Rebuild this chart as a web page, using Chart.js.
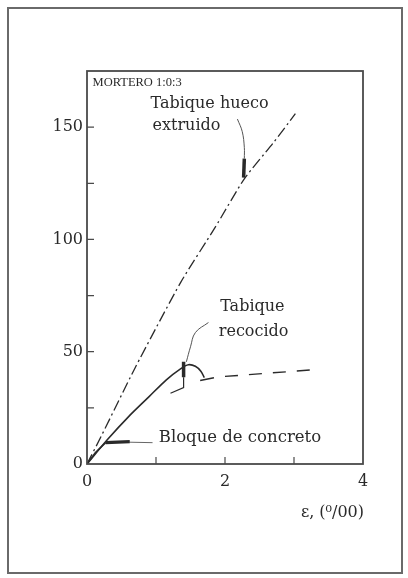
<!DOCTYPE html>
<html>
<head>
<meta charset="utf-8">
<script src="https://cdn.jsdelivr.net/npm/chart.js@4"></script>
<style>
  html, body { margin: 0; padding: 0; background: #ffffff; }
  #wrap { width: 408px; height: 578px; position: relative; }
</style>
</head>
<body>
<div id="wrap"><canvas id="c"></canvas></div>
<script>
// Stress (vertical) against strain ε in per mille, mortar 1:0:3
const xTicks = [0, 1, 2, 3, 4];
const xTickLabels = ['0', '', '2', '', '4'];
const yTicks = [0, 25, 50, 75, 100, 125, 150, 175];
const yTickLabels = ['0', '', '50', '', '100', '', '150', ''];

// Tabique hueco extruido (dash-dot)
const huecoX = [0, 0.2, 0.7, 1.36, 1.85, 2.28, 2.7, 3.02];
const huecoY = [0, 12, 43, 81, 105, 127, 143, 156];

// Tabique recocido: rising branch and the arc past the peak
const recocidoX = [0, 0.3, 0.6, 0.9, 1.15, 1.36, 1.47, 1.57, 1.65, 1.7];
const recocidoY = [0, 11, 21, 30, 37.5, 42.5, 44.2, 43.5, 41.3, 38.5];
// short tail at the end of the arc
const recocidoTailX = [1.64, 1.84];
const recocidoTailY = [37.2, 38.4];
// plateau branch (dashed)
const recocidoDashX = [2.0, 3.3];
const recocidoDashY = [39, 42];

// Bloque de concreto
const bloqueX = [0, 0.12, 0.27];
const bloqueY = [0, 5, 9.5];
const bloqueEndX = [0.27, 0.62];
const bloqueEndY = [9.5, 10];

// failure marks and leader lines
const huecoMarkX = [2.28, 2.27];
const huecoMarkY = [136, 127.5];
const huecoLeaderX = [2.18, 2.25, 2.28, 2.28];
const huecoLeaderY = [153.6, 148, 141, 136];
const recocidoMarkX = [1.40, 1.40];
const recocidoMarkY = [45.5, 38.6];
const recocidoFootX = [1.40, 1.40, 1.21];
const recocidoFootY = [38.6, 34, 31.5];
const recocidoLeaderX = [1.76, 1.57, 1.50, 1.44];
const recocidoLeaderY = [63, 58.5, 52.2, 45.5];
const bloqueLeaderX = [0.62, 0.95];
const bloqueLeaderY = [9.7, 9.5];

const ink = '#2a2a2a';
const serif = '"DejaVu Serif", "Liberation Serif", serif';
const times = '"Liberation Serif", serif';

function pts(xs, ys) { return xs.map((x, i) => ({ x: x, y: ys[i] })); }

function line(xs, ys, extra) {
  return Object.assign({
    data: pts(xs, ys),
    showLine: true,
    borderColor: ink,
    borderWidth: 1.4,
    pointRadius: 0,
    tension: 0.3,
    fill: false
  }, extra || {});
}

const labels = [
  { text: 'MORTERO 1:0:3', x: 0.08, y: 169.6, size: 12.5, font: times },
  { text: 'Tabique hueco', x: 0.92, y: 160.3, size: 16, font: serif },
  { text: 'extruido', x: 0.95, y: 150.4, size: 16, font: serif },
  { text: 'Tabique', x: 1.93, y: 70, size: 16, font: serif },
  { text: 'recocido', x: 1.91, y: 59, size: 16, font: serif },
  { text: 'Bloque de concreto', x: 1.04, y: 11.6, size: 16.5, font: serif }
];

const framePlugin = {
  id: 'frame',
  beforeDraw(chart) {
    const ctx = chart.ctx;
    ctx.save();
    ctx.fillStyle = '#ffffff';
    ctx.fillRect(0, 0, chart.width, chart.height);
    ctx.strokeStyle = '#6a6a6a';
    ctx.lineWidth = 2;
    ctx.strokeRect(8, 8, 394, 565);
    ctx.restore();
  },
  afterDraw(chart) {
    const ctx = chart.ctx;
    const xs = chart.scales.x, ys = chart.scales.y;
    const l = xs.left, r = xs.right, t = ys.top, b = ys.bottom;
    ctx.save();
    // plot box
    ctx.strokeStyle = '#4a4a4a';
    ctx.lineWidth = 1.8;
    ctx.strokeRect(l, t, r - l, b - t);
    // inward tick marks
    ctx.lineWidth = 1.2;
    ctx.beginPath();
    yTicks.forEach(v => {
      if (v <= 0 || v >= 175) return;
      const py = ys.getPixelForValue(v);
      ctx.moveTo(l, py); ctx.lineTo(l + 7, py);
    });
    xTicks.forEach(v => {
      if (v <= 0 || v >= 4) return;
      const px = xs.getPixelForValue(v);
      ctx.moveTo(px, b); ctx.lineTo(px, b - 7);
    });
    ctx.stroke();
    // in-plot texts
    ctx.fillStyle = ink;
    ctx.textBaseline = 'middle';
    ctx.textAlign = 'left';
    labels.forEach(lb => {
      ctx.font = lb.size + 'px ' + lb.font;
      ctx.fillText(lb.text, xs.getPixelForValue(lb.x), ys.getPixelForValue(lb.y));
    });
    // axis title
    ctx.font = '16px ' + serif;
    ctx.textAlign = 'right';
    ctx.fillText('ε, (⁰/00)', r + 1, b + 49);
    ctx.restore();
  }
};

new Chart(document.getElementById('c'), {
  type: 'scatter',
  data: {
    datasets: [
      line(huecoX, huecoY, { borderDash: [11, 3.5, 2, 3.5], borderWidth: 1.3, tension: 0.2 }),
      line(recocidoX, recocidoY, { borderWidth: 1.6 }),
      line(recocidoTailX, recocidoTailY, { tension: 0 }),
      line(recocidoDashX, recocidoDashY, { borderDash: [13, 11], tension: 0 }),
      line(bloqueX, bloqueY, { tension: 0, borderWidth: 1.6 }),
      line(bloqueEndX, bloqueEndY, { tension: 0, borderWidth: 3.2 }),
      line(bloqueLeaderX, bloqueLeaderY, { tension: 0, borderWidth: 1, borderColor: '#666' }),
      line(huecoMarkX, huecoMarkY, { tension: 0, borderWidth: 3.5 }),
      line(huecoLeaderX, huecoLeaderY, { tension: 0.4, borderWidth: 1, borderColor: '#555' }),
      line(recocidoMarkX, recocidoMarkY, { tension: 0, borderWidth: 3.5 }),
      line(recocidoFootX, recocidoFootY, { tension: 0, borderWidth: 1.2 }),
      line(recocidoLeaderX, recocidoLeaderY, { tension: 0.4, borderWidth: 1, borderColor: '#555' })
    ]
  },
  options: {
    responsive: true,
    maintainAspectRatio: false,
    animation: false,
    events: [],
    layout: { padding: { left: 0, right: 45, top: 71, bottom: 74 } },
    plugins: { legend: { display: false }, tooltip: { enabled: false } },
    scales: {
      x: {
        type: 'linear', min: 0, max: 4,
        afterFit(s) { s.height = 40; },
        afterBuildTicks(s) { s.ticks = xTicks.map(v => ({ value: v })); },
        grid: { display: false, drawTicks: false },
        border: { display: false },
        ticks: {
          padding: 8, color: ink, maxRotation: 0, autoSkip: false,
          font: { family: serif, size: 16 },
          callback: (v) => xTickLabels[xTicks.indexOf(v)]
        }
      },
      y: {
        type: 'linear', min: 0, max: 175,
        afterFit(s) { s.width = 87; },
        afterBuildTicks(s) { s.ticks = yTicks.map(v => ({ value: v })); },
        grid: { display: false, drawTicks: false },
        border: { display: false },
        ticks: {
          padding: 4, color: ink, autoSkip: false,
          font: { family: serif, size: 16 },
          callback: (v) => yTickLabels[yTicks.indexOf(v)]
        }
      }
    }
  },
  plugins: [framePlugin]
});
</script>
</body>
</html>
